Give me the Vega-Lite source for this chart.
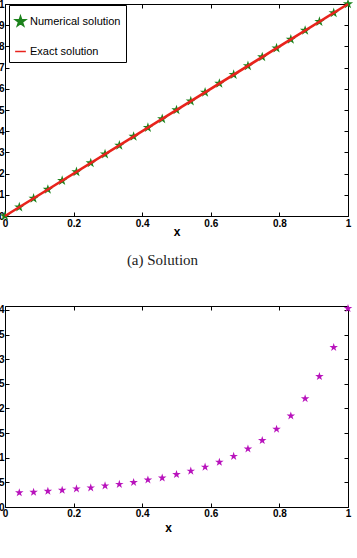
{
  "$schema": "https://vega.github.io/schema/vega-lite/v6.json",
  "padding": {"left": -11, "top": -2, "right": 0, "bottom": 0},
  "spacing": 34,
  "datasets": {
    "numerical": [
      {"x": 0, "y": 0, "series": "Numerical solution"},
      {"x": 0.041667, "y": 0.041667, "series": "Numerical solution"},
      {"x": 0.083333, "y": 0.083333, "series": "Numerical solution"},
      {"x": 0.125, "y": 0.125, "series": "Numerical solution"},
      {"x": 0.166667, "y": 0.166667, "series": "Numerical solution"},
      {"x": 0.208333, "y": 0.208333, "series": "Numerical solution"},
      {"x": 0.25, "y": 0.25, "series": "Numerical solution"},
      {"x": 0.291667, "y": 0.291667, "series": "Numerical solution"},
      {"x": 0.333333, "y": 0.333333, "series": "Numerical solution"},
      {"x": 0.375, "y": 0.375, "series": "Numerical solution"},
      {"x": 0.416667, "y": 0.416667, "series": "Numerical solution"},
      {"x": 0.458333, "y": 0.458333, "series": "Numerical solution"},
      {"x": 0.5, "y": 0.5, "series": "Numerical solution"},
      {"x": 0.541667, "y": 0.541667, "series": "Numerical solution"},
      {"x": 0.583333, "y": 0.583333, "series": "Numerical solution"},
      {"x": 0.625, "y": 0.625, "series": "Numerical solution"},
      {"x": 0.666667, "y": 0.666667, "series": "Numerical solution"},
      {"x": 0.708333, "y": 0.708333, "series": "Numerical solution"},
      {"x": 0.75, "y": 0.75, "series": "Numerical solution"},
      {"x": 0.791667, "y": 0.791667, "series": "Numerical solution"},
      {"x": 0.833333, "y": 0.833333, "series": "Numerical solution"},
      {"x": 0.875, "y": 0.875, "series": "Numerical solution"},
      {"x": 0.916667, "y": 0.916667, "series": "Numerical solution"},
      {"x": 0.958333, "y": 0.958333, "series": "Numerical solution"},
      {"x": 1, "y": 1, "series": "Numerical solution"}
    ],
    "exact": [
      {"x": 0, "y": 0, "series": "Exact solution"},
      {"x": 1, "y": 1, "series": "Exact solution"}
    ],
    "error": [
      {"x": 0.041667, "e": 0.29},
      {"x": 0.083333, "e": 0.30},
      {"x": 0.125, "e": 0.32},
      {"x": 0.166667, "e": 0.34},
      {"x": 0.208333, "e": 0.37},
      {"x": 0.25, "e": 0.39},
      {"x": 0.291667, "e": 0.43},
      {"x": 0.333333, "e": 0.46},
      {"x": 0.375, "e": 0.50},
      {"x": 0.416667, "e": 0.55},
      {"x": 0.458333, "e": 0.59},
      {"x": 0.5, "e": 0.66},
      {"x": 0.541667, "e": 0.73},
      {"x": 0.583333, "e": 0.81},
      {"x": 0.625, "e": 0.91},
      {"x": 0.666667, "e": 1.03},
      {"x": 0.708333, "e": 1.18},
      {"x": 0.75, "e": 1.35},
      {"x": 0.791667, "e": 1.58},
      {"x": 0.833333, "e": 1.85},
      {"x": 0.875, "e": 2.20},
      {"x": 0.916667, "e": 2.65},
      {"x": 0.958333, "e": 3.24},
      {"x": 1, "e": 4.03}
    ]
  },
  "vconcat": [
    {
      "width": 343,
      "height": 212,
      "title": {"text": "(a) Solution", "orient": "bottom", "font": "Liberation Serif", "fontSize": 15, "fontWeight": "normal", "color": "#222", "offset": 16, "dx": -14},
      "resolve": {"axis": {"x": "independent", "y": "independent"}},
      "layer": [
        {
          "data": {"name": "numerical"},
          "mark": {"type": "point", "filled": true, "size": 115, "opacity": 1},
          "encoding": {
            "x": {"field": "x", "type": "quantitative", "scale": {"domain": [0, 1], "nice": false},
              "axis": {"orient": "bottom", "values": [0, 0.2, 0.4, 0.6, 0.8, 1], "format": "~g", "labelPadding": 6, "labelFlush": false, "title": "x", "titlePadding": -2}},
            "y": {"field": "y", "type": "quantitative", "scale": {"domain": [0, 1], "nice": false},
              "axis": {"orient": "left", "values": [0, 0.1, 0.2, 0.3, 0.4, 0.5, 0.6, 0.7, 0.8, 0.9, 1], "format": "~g", "labelPadding": 5, "labelFlush": false, "title": null}},
            "color": {"field": "series", "type": "nominal",
              "scale": {"domain": ["Numerical solution", "Exact solution"], "range": ["#1c821c", "#e8231c"]},
              "legend": {
                "title": " ", "titleFontSize": 5, "titlePadding": 0,
                "orient": "none", "legendX": 4, "legendY": 1,
                "strokeColor": "black", "fillColor": "white", "padding": 5, "rowPadding": 16,
                "labelFont": "Liberation Sans", "labelFontSize": 11, "labelColor": "black", "labelOffset": 3,
                "symbolOffset": 0, "symbolSize": 115,
                "encode": {"symbols": {"update": {
                  "stroke": {"scale": "color", "field": "value"},
                  "strokeWidth": {"signal": "datum.value === 'Exact solution' ? 2.6 : 0"}
                }}}
              }},
            "shape": {"field": "series", "type": "nominal",
              "scale": {"domain": ["Numerical solution", "Exact solution"], "range": ["M0,-1L0.2245,-0.309L0.951,-0.309L0.363,0.118L0.588,0.809L0,0.382L-0.588,0.809L-0.363,0.118L-0.951,-0.309L-0.2245,-0.309Z", "stroke"]}}
          }
        },
        {
          "data": {"name": "exact"},
          "mark": {"type": "line", "strokeWidth": 2.6},
          "encoding": {
            "x": {"field": "x", "type": "quantitative",
              "axis": {"orient": "top", "values": [0, 0.2, 0.4, 0.6, 0.8, 1], "labels": false, "title": null}},
            "y": {"field": "y", "type": "quantitative",
              "axis": {"orient": "right", "values": [0, 0.1, 0.2, 0.3, 0.4, 0.5, 0.6, 0.7, 0.8, 0.9, 1], "labels": false, "title": null}},
            "color": {"field": "series", "type": "nominal"}
          }
        }
      ]
    },
    {
      "width": 343,
      "height": 201,
      "data": {"name": "error"},
      "resolve": {"axis": {"x": "independent", "y": "independent"}},
      "layer": [
        {
          "mark": {"type": "point", "filled": true, "size": 80, "opacity": 1, "color": "#b812bc", "shape": "M0,-1L0.2245,-0.309L0.951,-0.309L0.363,0.118L0.588,0.809L0,0.382L-0.588,0.809L-0.363,0.118L-0.951,-0.309L-0.2245,-0.309Z"},
          "encoding": {
            "x": {"field": "x", "type": "quantitative", "scale": {"domain": [0, 1], "nice": false},
              "axis": {"orient": "bottom", "values": [0, 0.2, 0.4, 0.6, 0.8, 1], "format": "~g", "labelPadding": 5, "labelFlush": false, "title": "x", "titlePadding": 4, "titleX": 163}},
            "y": {"field": "e", "type": "quantitative", "scale": {"domain": [0, 4.08], "nice": false},
              "axis": {"orient": "left", "values": [0, 0.5, 1, 1.5, 2, 2.5, 3, 3.5, 4], "format": "~g", "labelPadding": 5, "labelFlush": false, "title": null}}
          }
        },
        {
          "mark": {"type": "point", "opacity": 0},
          "encoding": {
            "x": {"field": "x", "type": "quantitative",
              "axis": {"orient": "top", "values": [0, 0.2, 0.4, 0.6, 0.8, 1], "labels": false, "title": null}},
            "y": {"field": "e", "type": "quantitative",
              "axis": {"orient": "right", "values": [0, 0.5, 1, 1.5, 2, 2.5, 3, 3.5, 4], "labels": false, "title": null}}
          }
        }
      ]
    }
  ],
  "config": {
    "view": {"stroke": "black", "strokeWidth": 1},
    "axis": {
      "domain": false, "grid": false, "ticks": true, "tickSize": -4, "tickColor": "black", "tickWidth": 1,
      "labelFont": "Liberation Sans", "labelFontWeight": "bold", "labelFontSize": 10, "labelColor": "black",
      "titleFont": "Liberation Sans", "titleFontWeight": "bold", "titleFontSize": 12, "titleColor": "black"
    }
  }
}
